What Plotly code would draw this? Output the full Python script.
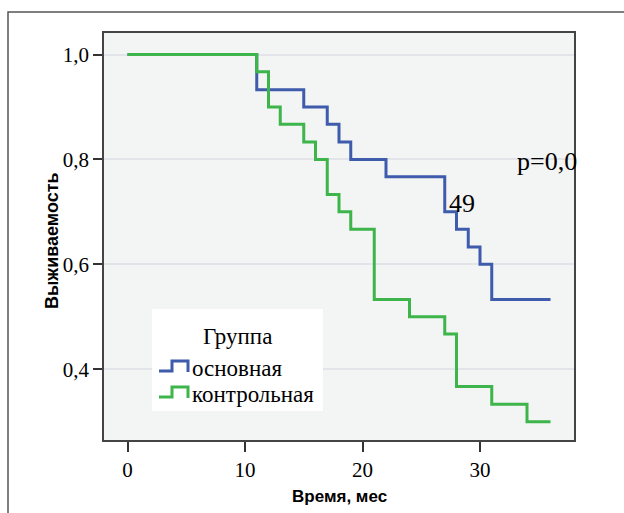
import plotly.graph_objects as go

# ---- data ----
t_main = [0, 11, 15, 17, 18, 19, 22, 27, 28, 29, 30, 31, 36]
s_main = [1.0, 0.933, 0.9, 0.867, 0.833, 0.8, 0.767, 0.7, 0.667, 0.633, 0.6, 0.533, 0.533]
t_ctrl = [0, 11, 12, 13, 15, 16, 17, 18, 19, 21, 24, 27, 28, 31, 34, 36]
s_ctrl = [1.0, 0.967, 0.9, 0.867, 0.833, 0.8, 0.733, 0.7, 0.667, 0.533, 0.5, 0.467, 0.367, 0.333, 0.3, 0.3]
group_names = ["основная", "контрольная"]
legend_title = "Группа"
x_title = "Время, мес"
y_title = "Выживаемость"
p_text = ["p=0,0", "49"]

BLUE = "#3F5BAC"
GREEN = "#3DB54A"

W, H = 624, 513
L, R, T, B = 104, 574, 33, 440


def px(x):
    return (x - L) / (R - L)


def py(y):
    return (B - y) / (B - T)


fig = go.Figure()
fig.add_trace(go.Scatter(x=t_main, y=s_main, mode="lines", line=dict(color=BLUE, width=3, shape="hv"),
                         name=group_names[0], showlegend=False))
fig.add_trace(go.Scatter(x=t_ctrl, y=s_ctrl, mode="lines", line=dict(color=GREEN, width=3, shape="hv"),
                         name=group_names[1], showlegend=False))

serif = "Liberation Serif, Times New Roman, serif"
sans = "Liberation Sans, Arial, sans-serif"

fig.update_layout(
    width=W, height=H, autosize=False,
    margin=dict(l=L, r=W - R, t=T, b=H - B, pad=0),
    paper_bgcolor="white", plot_bgcolor="#F3F4F4",
    separators=", ",
    showlegend=False,
    xaxis=dict(range=[-2, 38], tick0=0, dtick=10, showgrid=False, zeroline=False,
               showline=True, linecolor="#444", linewidth=1.5, mirror=True,
               ticks="outside", ticklen=10, tickwidth=1.5, tickcolor="#333",
               tickfont=dict(family=serif, size=21, color="black")),
    yaxis=dict(range=[0.265, 1.041], tick0=0, dtick=0.2, tickformat=".1f",
               showgrid=True, gridcolor="#E3E4EA", gridwidth=1.5, zeroline=False,
               showline=True, linecolor="#444", linewidth=1.5, mirror=True,
               ticks="outside", ticklen=9, tickwidth=1.5, tickcolor="#333",
               ticklabelstandoff=0,
               tickfont=dict(family=serif, size=21, color="black")),
)

shapes = []
# outer frame
shapes.append(dict(type="rect", xref="paper", yref="paper", x0=px(8), x1=px(640), y0=py(530), y1=py(12),
                   line=dict(color="#555", width=1.5), fillcolor="rgba(0,0,0,0)", layer="below"))
# legend box
shapes.append(dict(type="rect", xref="paper", yref="paper", x0=px(152), x1=px(323), y0=py(411), y1=py(309),
                   line=dict(width=0), fillcolor="white", layer="above"))
# legend step glyphs
for yoff, col in [(0, BLUE), (26, GREEN)]:
    pts = [(159, 371 + yoff), (172, 371 + yoff), (172, 361 + yoff), (188, 361 + yoff), (188, 372 + yoff)]
    path = "M " + " L ".join(f"{px(a):.5f},{py(b):.5f}" for a, b in pts)
    shapes.append(dict(type="path", xref="paper", yref="paper", path=path,
                       line=dict(color=col, width=3), layer="above"))
fig.update_layout(shapes=shapes)

ann = []
ann.append(dict(xref="paper", yref="paper", x=px(237), y=py(336), text=legend_title, showarrow=False,
                xanchor="center", yanchor="middle", font=dict(family=serif, size=23, color="black")))
ann.append(dict(xref="paper", yref="paper", x=px(190), y=py(368), text=group_names[0], showarrow=False,
                xanchor="left", yanchor="middle", font=dict(family=serif, size=23, color="black")))
ann.append(dict(xref="paper", yref="paper", x=px(190), y=py(394), text=group_names[1], showarrow=False,
                xanchor="left", yanchor="middle", font=dict(family=serif, size=23, color="black")))
# p-value text
ann.append(dict(x=32.95, y=0.796, text=p_text[0], showarrow=False, xanchor="left", yanchor="middle",
                font=dict(family=serif, size=26, color="black")))
ann.append(dict(x=27.15, y=0.716, text=p_text[1], showarrow=False, xanchor="left", yanchor="middle",
                font=dict(family=serif, size=26, color="black")))
# axis titles
ann.append(dict(xref="paper", yref="paper", x=px(339), y=py(496), text="<b>" + x_title + "</b>", showarrow=False,
                xanchor="center", yanchor="middle", font=dict(family=sans, size=17, color="black")))
ann.append(dict(xref="paper", yref="paper", x=px(52), y=py(241), text="<b>" + y_title + "</b>", showarrow=False,
                textangle=-90, xanchor="center", yanchor="middle", font=dict(family=sans, size=18, color="black")))
fig.update_layout(annotations=ann)

fig.write_html("out.html", config={"displayModeBar": False},
               post_script="document.body.style.margin='0px';document.body.style.overflow='hidden';")
